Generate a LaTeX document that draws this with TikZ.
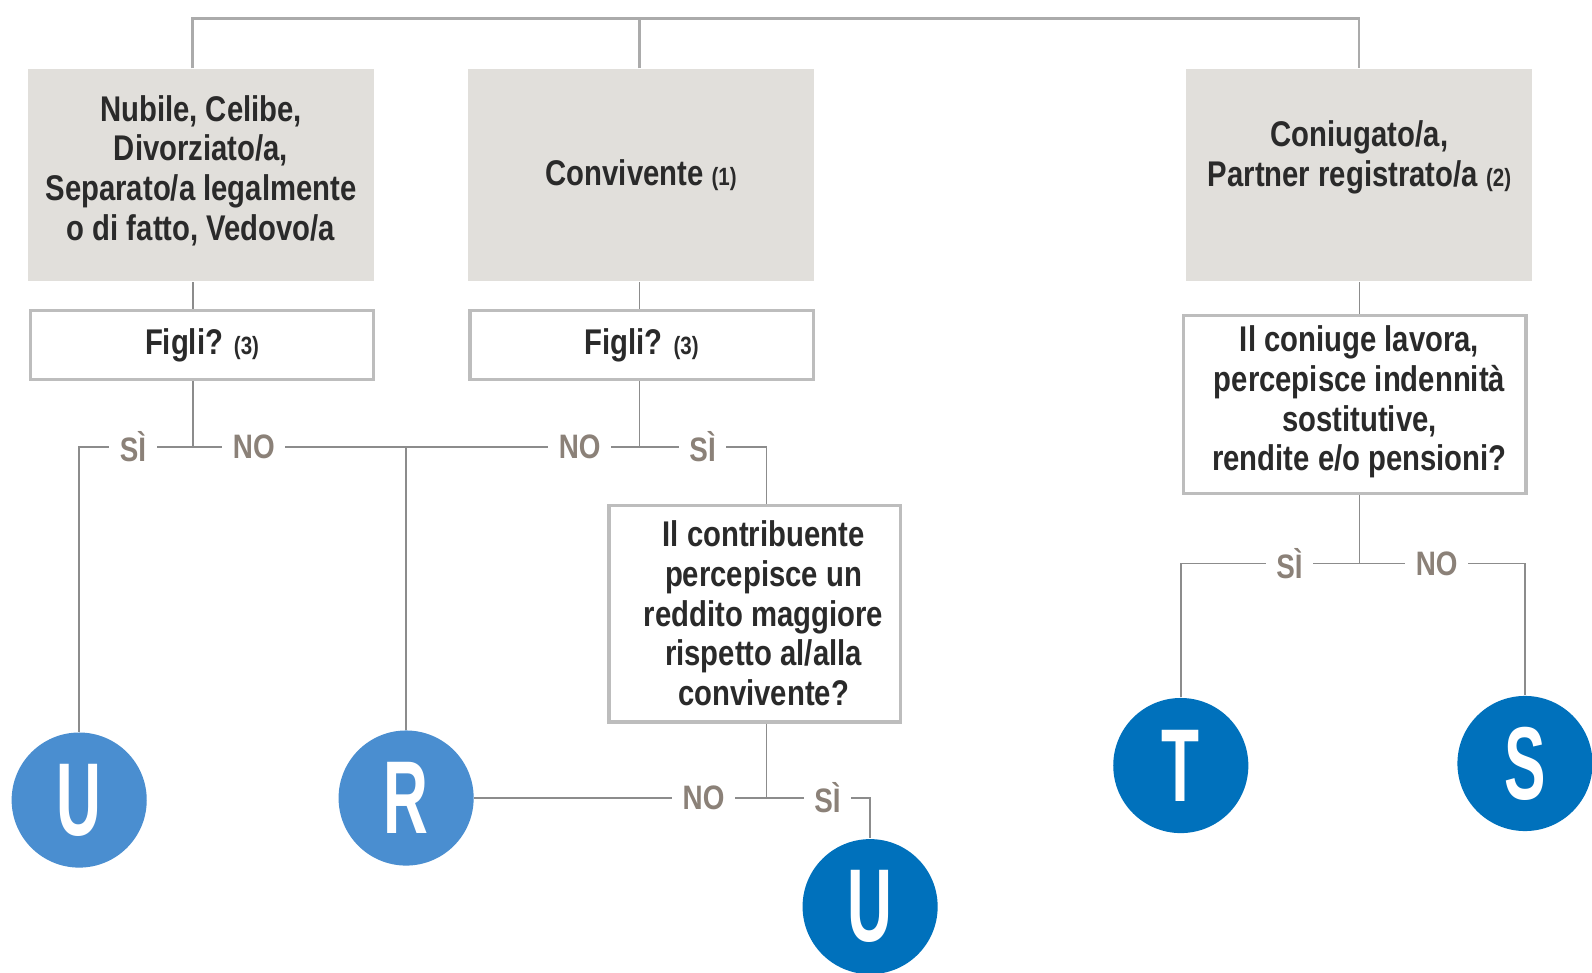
\documentclass[tikz,border=0pt]{standalone}
\usepackage{fontspec}
\setmainfont{Liberation Sans}[FakeStretch=0.82]
\newfontfamily\circfont{Liberation Sans}[FakeStretch=0.6]

\definecolor{boxgray}{HTML}{E1DFDB}
\definecolor{framegray}{HTML}{BDBDBD}
\definecolor{linegray}{HTML}{8C8C8C}
\definecolor{topgray}{HTML}{ABABAB}
\definecolor{txtdark}{HTML}{2A2A2A}
\definecolor{answgray}{HTML}{8B8178}
\definecolor{lightblue}{HTML}{4A8ED0}
\definecolor{darkblue}{HTML}{0071BC}

\newcommand{\boxfont}{\bfseries\fontsize{10}{11.1}\selectfont}
\newcommand{\answfont}{\bfseries\fontsize{9.5}{10}\selectfont}
\newcommand{\refnum}[1]{{\fontsize{7}{8}\selectfont #1}}

\begin{document}
\begin{tikzpicture}[x=0.01cm,y=-0.01cm,
  catbox/.style={fill=boxgray,minimum width=3.41cm,minimum height=2.09cm,inner sep=0pt,align=center,text=txtdark,font=\boxfont},
  askbox/.style={draw=framegray,line width=0.9pt,fill=white,inner sep=0pt,align=center,text=txtdark,font=\boxfont},
  asktext/.style={align=center,text=txtdark,font=\boxfont,inner sep=0pt},
  conn/.style={draw=linegray,line width=0.45pt},
  topconn/.style={draw=topgray,line width=0.8pt},
  answer/.style={fill=white,text=answgray,font=\answfont,inner xsep=3pt,inner ysep=1pt},
  result/.style={circle,minimum size=1.33cm,inner sep=0pt,text=white,font=\circfont\bfseries\fontsize{29}{29}\selectfont},
  resultlight/.style={result,fill=lightblue},
  resultdark/.style={result,fill=darkblue}]
\useasboundingbox (0,0) rectangle (1568,958);

% categorie
\node[catbox] (boxA) at (198,172.5) {};
\node[asktext] (boxAtxt) at (198,168) {Nubile, Celibe,\\Divorziato/a,\\Separato/a legalmente\\o di fatto, Vedovo/a};
\node[catbox] (boxB) at (631.5,172.5) {Convivente \refnum{(1)}};
\node[catbox] (boxC) at (1338.5,172.5) {};
\node[asktext] (boxCtxt) at (1339,155) {Coniugato/a,\\Partner registrato/a \refnum{(2)}};

% domande
\node[askbox,minimum width=3.38cm,minimum height=0.68cm] (figliA) at (199,340) {Figli? \refnum{(3)}};
\node[askbox,minimum width=3.38cm,minimum height=0.68cm] (figliB) at (632,340) {Figli? \refnum{(3)}};
\node[askbox,minimum width=2.87cm,minimum height=2.13cm] (boxD) at (743.5,604.5) {};
\node[asktext] (boxDtxt) at (752,604) {Il contribuente\\percepisce un\\reddito maggiore\\rispetto al/alla\\convivente?};
\node[askbox,minimum width=3.37cm,minimum height=1.75cm] (boxE) at (1334.5,398.5) {};
\node[asktext] (boxEtxt) at (1339,396) {Il coniuge lavora,\\percepisce indennità\\sostitutive,\\rendite e/o pensioni?};

% risultati
\node[resultlight] (u1) at (78,788) {U};
\node[resultlight] (r) at (400,786) {R};
\node[resultdark] (u2) at (857,893) {U};
\node[resultdark] (t) at (1163,754) {T};
\node[resultdark] (s) at (1502,752) {S};

% punti di snodo
\coordinate (xA) at (190,0);
\coordinate (jA) at (190,440);
\coordinate (jB) at (630,440);
\coordinate (jR) at (400,440);
\coordinate (cD) at (755,440);
\coordinate (jD) at (755,786);
\coordinate (jE) at (1339,555);
\coordinate (top) at (0,18);

% linea in alto
\draw[topconn] (boxA.north -| xA) -- (top -| xA) -- (top -| boxC.north) -- (boxC.north);
\draw[topconn] (boxB.north -| jB) -- (top -| jB);

% collegamenti
\draw[conn] (boxA.south -| xA) -- (figliA.north -| xA);
\draw[conn] (boxB.south -| jB) -- (figliB.north -| jB);
\draw[conn] (figliA.south -| xA) -- (jA) -| (u1);
\draw[conn] (jA) -- (jB);
\draw[conn] (jR) -- (r);
\draw[conn] (figliB.south -| jB) -- (jB) -- (cD) -- (cD |- boxD.north);
\draw[conn] (boxD.south -| jD) -- (jD) -| (u2);
\draw[conn] (r) -- (jD);
\draw[conn] (boxC.south -| jE) -- (boxE.north -| jE);
\draw[conn] (boxE.south -| jE) -- (jE) -| (t);
\draw[conn] (jE) -| (s);

% risposte
\node[answer] (a1) at (131,440) {SÌ};
\node[answer] (a2) at (250,440) {NO};
\node[answer] (a3) at (571,440) {NO};
\node[answer] (a4) at (692,440) {SÌ};
\node[answer] (a5) at (693,786) {NO};
\node[answer] (a6) at (815,786) {SÌ};
\node[answer] (a7) at (1270,555) {SÌ};
\node[answer] (a8) at (1415,555) {NO};
\end{tikzpicture}
\end{document}
